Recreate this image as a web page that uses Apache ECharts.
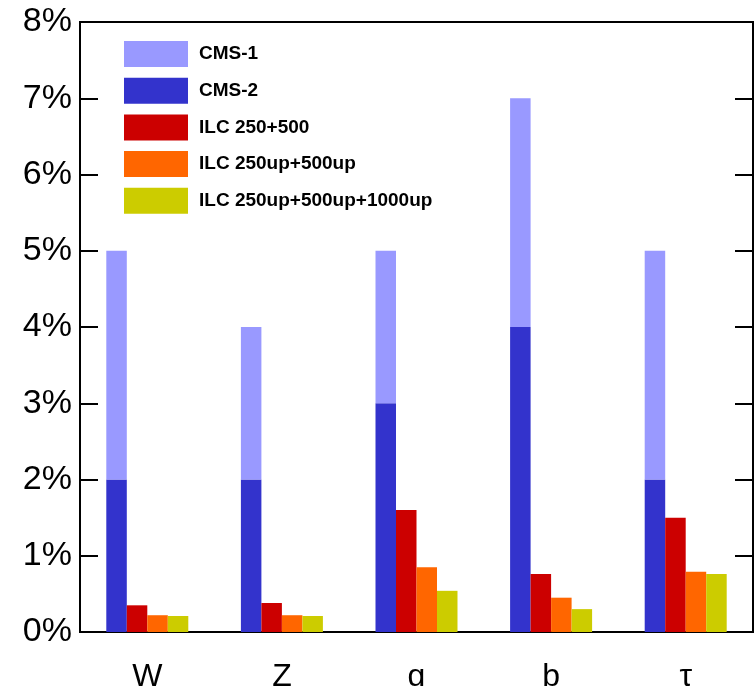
<!DOCTYPE html>
<html>
<head>
<meta charset="utf-8">
<script src="https://cdn.jsdelivr.net/npm/echarts@6/dist/echarts.min.js"></script>
<style>html,body{margin:0;padding:0;background:#fff}#c{width:755px;height:686px}</style>
</head>
<body>
<div id="c"></div>
<script>
const categories = ['W', 'Z', 'g', 'b', 'τ'];
const seriesNames = ['CMS-1', 'CMS-2', 'ILC 250+500', 'ILC 250up+500up', 'ILC 250up+500up+1000up'];
const cms1 = [5, 4, 5, 7, 5];
const cms2 = [2, 2, 3, 4, 2];
const ilc1 = [0.35, 0.38, 1.6, 0.76, 1.5];
const ilc2 = [0.22, 0.22, 0.85, 0.45, 0.79];
const ilc3 = [0.21, 0.21, 0.54, 0.30, 0.76];
const yTicks = [0, 1, 2, 3, 4, 5, 6, 7, 8];
const colors = ['#9999ff', '#3333cc', '#cc0000', '#ff6600', '#cccc00'];

const chart = echarts.init(document.getElementById('c'), null, {renderer: 'canvas'});
const font = 'Liberation Sans, Arial, Helvetica, sans-serif';
const bw = 20.5;
chart.setOption({
  animation: false,
  textStyle: {fontFamily: font},
  grid: {left: 80, right: 2, top: 22, bottom: 54, containLabel: false, outerBoundsMode: 'none',
         show: true, borderColor: '#000', borderWidth: 2, backgroundColor: 'transparent'},
  legend: {
    orient: 'vertical', left: 124, top: 41, padding: 0,
    itemWidth: 64, itemHeight: 26, itemGap: 10.7,
    icon: 'rect',
    data: [seriesNames[0], seriesNames[1], seriesNames[2], seriesNames[3], seriesNames[4]],
    textStyle: {fontSize: 19, fontWeight: 'bold', color: '#000', fontFamily: font, padding: [0, 0, 0, 6]}
  },
  xAxis: {
    type: 'category', data: categories,
    axisLine: {lineStyle: {color: '#000', width: 2}},
    axisTick: {show: false},
    axisLabel: {fontSize: 32, color: '#000', margin: 29, fontFamily: font}
  },
  yAxis: [{
    type: 'value', min: yTicks[0], max: yTicks[yTicks.length - 1], interval: 1,
    axisLine: {show: true, lineStyle: {color: '#000', width: 2}},
    axisTick: {show: true, inside: true, length: 18, lineStyle: {color: '#000', width: 2}},
    splitLine: {show: false},
    axisLabel: {fontSize: 34, color: '#000', margin: 8, formatter: '{value}%', fontFamily: font}
  }, {
    type: 'value', position: 'right', min: yTicks[0], max: yTicks[yTicks.length - 1], interval: 1,
    axisLine: {show: true, lineStyle: {color: '#000', width: 2}},
    axisTick: {show: true, inside: true, length: 18, lineStyle: {color: '#000', width: 2}},
    splitLine: {show: false},
    axisLabel: {show: false}
  }],
  series: [
    {name: seriesNames[1], type: 'bar', stack: 'cms', data: cms2, barWidth: bw, barGap: '0%', itemStyle: {color: colors[1]}},
    {name: seriesNames[0], type: 'bar', stack: 'cms', data: cms1.map((v, i) => v - cms2[i]), barWidth: bw, barGap: '0%', itemStyle: {color: colors[0]}},
    {name: seriesNames[2], type: 'bar', data: ilc1, barWidth: bw, barGap: '0%', itemStyle: {color: colors[2]}},
    {name: seriesNames[3], type: 'bar', data: ilc2, barWidth: bw, barGap: '0%', itemStyle: {color: colors[3]}},
    {name: seriesNames[4], type: 'bar', data: ilc3, barWidth: bw, barGap: '0%', itemStyle: {color: colors[4]}}
  ]
});
</script>
</body>
</html>
